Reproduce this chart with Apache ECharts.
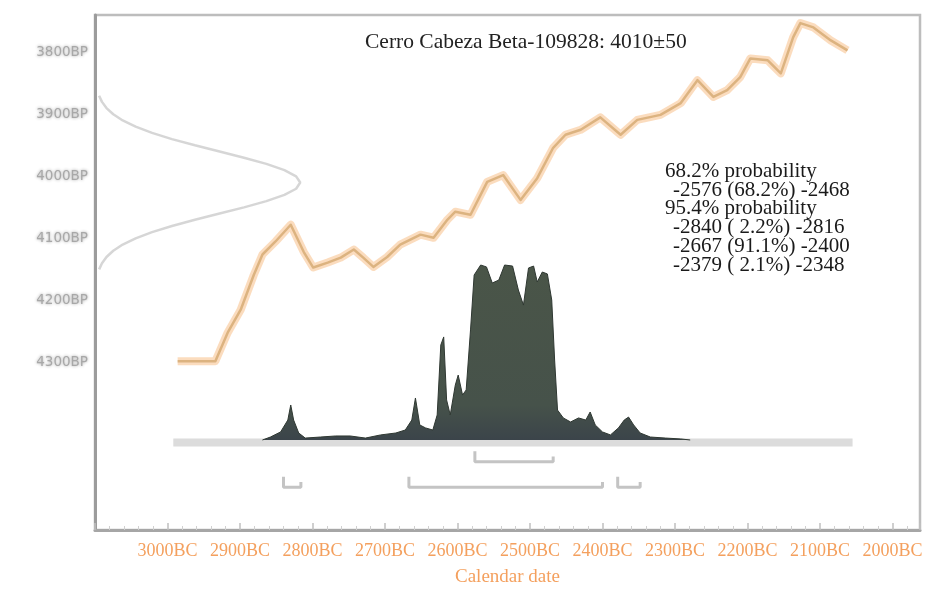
<!DOCTYPE html>
<html>
<head>
<meta charset="utf-8">
<script src="https://cdn.jsdelivr.net/npm/echarts@6/dist/echarts.min.js"></script>
<style>
  html, body { margin: 0; padding: 0; background: #ffffff; }
  #chart { width: 928px; height: 596px; }
</style>
</head>
<body>
<div id="chart"></div>
<script>
// Calibration curve (calendar year, negative = BC; radiocarbon age BP)
const curveYears = [-2986,-2934,-2917,-2899,-2881,-2869,-2851,-2830,-2812,-2799,-2779,-2761,-2743,-2730,-2716,-2697,-2679,-2651,-2633,-2614,-2603,-2582,-2559,-2537,-2513,-2490,-2468,-2451,-2430,-2403,-2375,-2352,-2320,-2292,-2269,-2247,-2228,-2210,-2196,-2172,-2154,-2137,-2127,-2109,-2085,-2062];
const curveBP    = [4298,4298,4252,4215,4159,4126,4105,4078,4122,4147,4139,4131,4118,4131,4146,4130,4110,4094,4099,4070,4057,4062,4009,3998,4038,4003,3954,3933,3925,3905,3933,3909,3901,3882,3845,3872,3861,3840,3810,3813,3834,3776,3753,3760,3781,3797];

// Measured radiocarbon age 4010±50 BP: relative probability by BP
const dateBP      = [3870,3880,3890,3900,3910,3920,3930,3940,3950,3960,3970,3980,3990,4000,4010,4020,4030,4040,4050,4060,4070,4080,4090,4100,4110,4120,4130,4140,4150];
const dateDensity = [0.020,0.034,0.056,0.089,0.135,0.198,0.278,0.375,0.487,0.607,0.726,0.835,0.923,0.980,1,0.980,0.923,0.835,0.726,0.607,0.487,0.375,0.278,0.198,0.135,0.089,0.056,0.034,0.020];

// Calibrated date distribution (calendar year, relative probability)
const calYears = [-2869,-2858,-2844,-2834,-2830,-2826,-2819,-2810,-2789,-2768,-2748,-2727,-2706,-2685,-2672,-2663,-2658,-2652,-2644,-2634,-2628,-2623,-2619,-2615,-2610,-2603,-2599,-2593,-2588,-2582,-2577,-2568,-2560,-2552,-2543,-2535,-2524,-2516,-2509,-2502,-2495,-2490,-2483,-2476,-2470,-2466,-2462,-2454,-2444,-2433,-2423,-2417,-2410,-2400,-2389,-2378,-2370,-2364,-2357,-2348,-2334,-2313,-2292,-2279];
const calProb  = [0,0.017,0.046,0.114,0.2,0.114,0.04,0.011,0.017,0.023,0.023,0.011,0.029,0.04,0.057,0.114,0.24,0.086,0.069,0.057,0.143,0.543,0.589,0.229,0.143,0.314,0.371,0.257,0.286,0.629,0.943,1.0,0.989,0.897,0.914,1.0,0.994,0.857,0.771,0.983,0.994,0.903,0.96,0.949,0.8,0.457,0.171,0.126,0.103,0.126,0.114,0.16,0.086,0.046,0.029,0.069,0.114,0.131,0.086,0.04,0.017,0.011,0.006,0];

// Highest probability ranges
const range68Start = [-2576];
const range68End   = [-2468];
const range68Pct   = [68.2];
const range95Start = [-2840, -2667, -2379];
const range95End   = [-2816, -2400, -2348];
const range95Pct   = [2.2, 91.1, 2.1];

// Axis ticks
const yTickLabels = [3800, 3900, 4000, 4100, 4200, 4300];
const xTickLabels = [-3000,-2900,-2800,-2700,-2600,-2500,-2400,-2300,-2200,-2100,-2000];

const titleText = 'Cerro Cabeza Beta-109828: 4010\u00b150';
const xAxisName = 'Calendar date';

const orange = '#f4a05e';
const serif = '"Liberation Serif", "DejaVu Serif", serif';

const chart = echarts.init(document.getElementById('chart'), null, { renderer: 'canvas' });

function pctText(p) {
  const s = p.toFixed(1) + '%';
  return p < 10 ? '( ' + s + ')' : '(' + s + ')';
}

// Text block on the right
const textLines = [];
textLines.push({ text: '68.2% probability', indent: 0 });
range68Start.forEach((s, i) => textLines.push({ text: s + ' ' + pctText(range68Pct[i]) + ' ' + range68End[i], indent: 1 }));
textLines.push({ text: '95.4% probability', indent: 0 });
range95Start.forEach((s, i) => textLines.push({ text: s + ' ' + pctText(range95Pct[i]) + ' ' + range95End[i], indent: 1 }));

const graphics = [{
  type: 'text', left: 365, top: 31,
  style: { text: titleText, font: '21.5px ' + serif, fill: '#222' }
}];
textLines.forEach((ln, i) => {
  graphics.push({
    type: 'text', left: ln.indent ? 673 : 665, top: 161 + i * 18.7,
    style: { text: ln.text, font: '21px ' + serif, fill: '#1a1a1a' }
  });
});

// Range brackets below the distribution
function bracketSeries(starts, ends, level) {
  return starts.map((s, i) => ({
    type: 'line', xAxisIndex: 0, yAxisIndex: 1, silent: true, symbol: 'none', z: 3,
    lineStyle: { color: '#c4c4c4', width: 3 },
    data: [[s, level + 0.06], [s, level], [ends[i], level], [ends[i], level + 0.03]]
  }));
}

const option = {
  backgroundColor: '#ffffff',
  animation: false,
  grid: { left: 95, right: 8, top: 15, bottom: 66, show: true, borderColor: '#bdbdbd', borderWidth: 2.5 },
  xAxis: [{
    type: 'value', min: -3100, max: -1962, interval: 100,
    name: xAxisName, nameLocation: 'middle', nameGap: 38,
    nameTextStyle: { color: orange, fontFamily: serif, fontSize: 19 },
    axisLine: { show: true, onZero: false, lineStyle: { color: '#a6a6a6', width: 3 } },
    axisTick: { show: true, inside: true, length: 7, lineStyle: { color: '#c0c0c0', width: 1.5 } },
    minorTick: { show: true, splitNumber: 5, length: 4, lineStyle: { color: '#d0d0d0' } },
    splitLine: { show: false },
    axisLabel: {
      color: orange, fontFamily: serif, fontSize: 18, margin: 12,
      showMinLabel: true, showMaxLabel: true,
      formatter: v => xTickLabels.includes(v) ? (-v) + 'BC' : ''
    }
  }, {
    type: 'value', min: 0, max: 4.02, show: false
  }],
  yAxis: [{
    type: 'value', inverse: true, min: 3740, max: 4570, interval: 20,
    axisLine: { show: true, onZero: false, lineStyle: { color: '#9c9c9c', width: 3 } },
    axisTick: { show: false },
    splitLine: { show: false },
    axisLabel: {
      color: '#a8a8a8', fontFamily: '"DejaVu Sans", sans-serif', fontSize: 13.5, margin: 7,
      textShadowColor: 'rgba(150,150,150,0.9)', textShadowBlur: 3,
      formatter: v => yTickLabels.includes(v) ? v + 'BP' : ''
    }
  }, {
    type: 'value', min: -0.5143, max: 2.4286, show: false
  }],
  graphic: graphics,
  series: [
    // Normal distribution of the measured date along the BP axis
    {
      type: 'line', xAxisIndex: 1, yAxisIndex: 0, silent: true, symbol: 'none', z: 2,
      lineStyle: { color: 'rgba(200,200,200,0.75)', width: 2.5 },
      data: dateDensity.map((d, i) => [d, dateBP[i]])
    },
    // Calibration curve: soft band plus centre line
    {
      type: 'line', xAxisIndex: 0, yAxisIndex: 0, silent: true, symbol: 'none', z: 4,
      lineStyle: { color: 'rgba(247,185,125,0.5)', width: 8, join: 'round' },
      data: curveYears.map((y, i) => [y, curveBP[i]])
    },
    {
      type: 'line', xAxisIndex: 0, yAxisIndex: 0, silent: true, symbol: 'none', z: 5,
      lineStyle: { color: 'rgba(214,172,118,0.85)', width: 2.5, join: 'round' },
      data: curveYears.map((y, i) => [y, curveBP[i]])
    },
    // Baseline band under the calibrated distribution
    {
      type: 'line', xAxisIndex: 0, yAxisIndex: 1, silent: true, symbol: 'none', z: 2,
      lineStyle: { color: '#dcdcdc', width: 8 },
      data: [[-2992, -0.015], [-2055, -0.015]]
    },
    // Calibrated date probability
    {
      type: 'line', xAxisIndex: 0, yAxisIndex: 1, silent: true, symbol: 'none', z: 6,
      lineStyle: { color: '#2f3832', width: 1 },
      areaStyle: {
        opacity: 1,
        color: new echarts.graphic.LinearGradient(0, 0, 0, 1, [
          { offset: 0, color: '#4a5548' },
          { offset: 0.8, color: '#46524a' },
          { offset: 1, color: '#3b444a' }
        ])
      },
      data: calYears.map((y, i) => [y, calProb[i]])
    },
    ...bracketSeries(range68Start, range68End, -0.125),
    ...bracketSeries(range95Start, range95End, -0.27)
  ]
};

chart.setOption(option);
</script>
</body>
</html>
